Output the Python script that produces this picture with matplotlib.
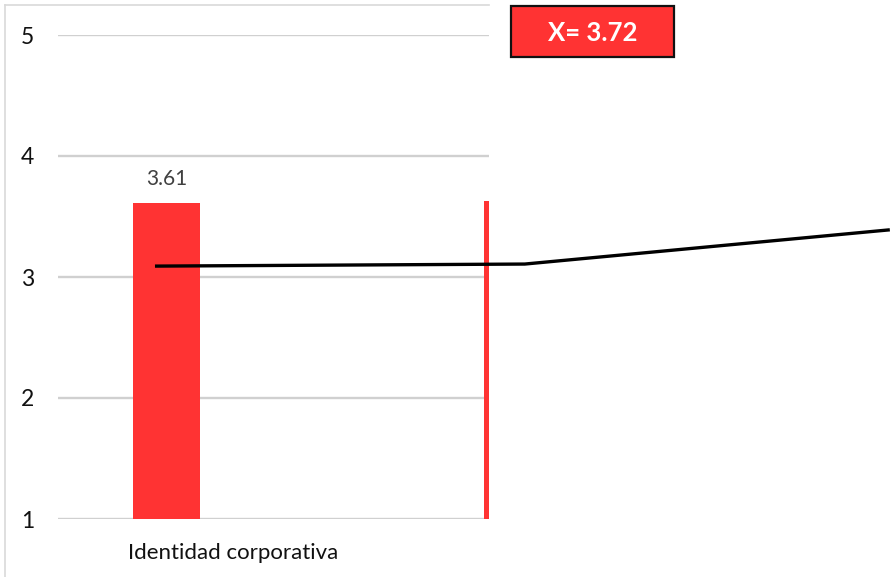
import matplotlib
matplotlib.use("Agg")
import matplotlib.pyplot as plt
from matplotlib.lines import Line2D
from matplotlib.patches import Rectangle

plt.rcParams['font.family'] = ['Lato', 'DejaVu Sans']

# Data
category = "Identidad corporativa"
bar_positions = [0.2517, 0.988]
bar_values = [3.61, 3.63]
bar_labels = ["3.61", ""]
trend_x = [0.225, 1.083, 1.93]
trend_y = [3.09, 3.107, 3.39]
mean_label = "X= 3.72"
y_ticks = [1, 2, 3, 4, 5]

RED = "#FF3333"

W, H = 890, 577
fig = plt.figure(figsize=(W / 100, H / 100), dpi=100)
ax = fig.add_axes([58 / W, 1 - 519 / H, (489 - 58) / W, (519 - 35) / H])
ax.set_xlim(0, 1)
ax.set_ylim(1, 5)

# Bars (second one sits at the right edge and is clipped by the axes)
ax.bar(bar_positions[0], bar_values[0] - 1, bottom=1, width=0.155,
       color=RED, zorder=2)
ax.bar(bar_positions[1], bar_values[1] - 1, bottom=1, width=0.155,
       align='edge', color=RED, zorder=2)

for xp, v, lab in zip(bar_positions, bar_values, bar_labels):
    if lab:
        ax.annotate(lab, (xp, v), xytext=(0, 10), textcoords='offset points',
                    ha='center', va='bottom', fontsize=15, color='#404040')

# Gridlines
ax.set_yticks(y_ticks)
ax.grid(axis='y', color='#D0D0D0', linewidth=1.7, zorder=0)
ax.set_axisbelow(True)
for s in ax.spines.values():
    s.set_visible(False)
ax.tick_params(axis='y', length=0, pad=17, labelsize=16.5, labelcolor='#111111')
ax.set_xticks([0.406])
ax.set_xticklabels([category])
ax.tick_params(axis='x', length=0, pad=17, labelsize=16, labelcolor='#111111')

# Trend line overlay extending beyond the axes
ax.plot(trend_x, trend_y, color='black', linewidth=2.4, clip_on=False,
        zorder=5, solid_capstyle='butt')

# Mean box
fig.patches.append(Rectangle((511 / W, 1 - 57 / H), (674 - 511) / W, (57 - 6) / H,
                             transform=fig.transFigure, facecolor=RED,
                             edgecolor='#111111', linewidth=1.6, zorder=6))
fig.text((511 + 674) / 2 / W, 1 - 33 / H, mean_label, ha='center', va='center',
         fontsize=18.5, fontweight='bold', color='white', zorder=7)

# Chart area border (partially visible)
fig.add_artist(Line2D([5 / W, 5 / W], [0, 1 - 5 / H], transform=fig.transFigure,
                      color='#D9D9D9', linewidth=1.2))
fig.add_artist(Line2D([5 / W, 489 / W], [1 - 5 / H, 1 - 5 / H],
                      transform=fig.transFigure, color='#D9D9D9', linewidth=1.2))

fig.savefig("out.png", dpi=100)
